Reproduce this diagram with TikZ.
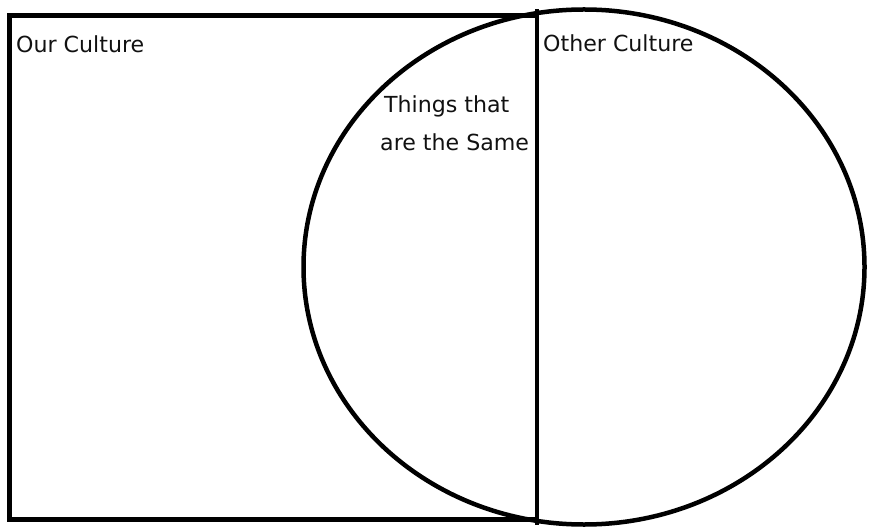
\documentclass[tikz,border=0pt]{standalone}
\usepackage{fontspec}
\setmainfont{DejaVu Sans}
\usetikzlibrary{shapes.geometric}
\definecolor{VennLine}{HTML}{000000}
\definecolor{VennText}{HTML}{111111}

\tikzset{
  venn edge/.style={draw=VennLine,line width=4.5bp},
  venn label/.style={anchor=base west,inner sep=0pt,text=VennText,
    font=\fontsize{22.2}{26}\selectfont}
}

\begin{document}
\begin{tikzpicture}[x=1bp,y=-1bp]
        \useasboundingbox (0,0) rectangle (870,529);

        \node[venn edge,rectangle,inner sep=0pt,outer sep=0pt,
          minimum width=527.5bp,minimum height=504bp] (ours) at (273.25,267.5) {};
        \node[venn edge,ellipse,inner sep=0pt,outer sep=0pt,
          minimum width=561bp,minimum height=515bp] (other) at (584,267) {};
        \draw[venn edge] (ours.north east |- other.north)
          -- (ours.south east |- other.south);

        \node[venn label] (ourtxt) at (16,53) {Our Culture};
        \node[venn label] (othertxt) at (543,52) {Other Culture};
        \node[venn label] (same1) at (384,113) {Things that};
        \node[venn label] (same2) at (380,151) {are the Same};
      \end{tikzpicture}
\end{document}
